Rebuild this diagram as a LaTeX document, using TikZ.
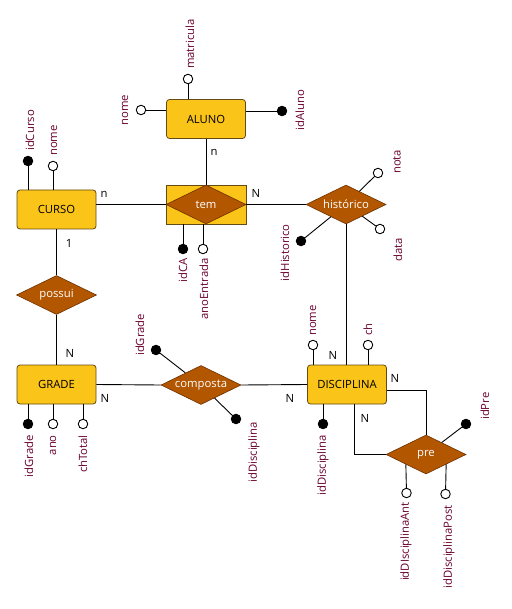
\documentclass[tikz,border=0pt]{standalone}
\usepackage{fontspec}
\setmainfont{Open Sans}
\usetikzlibrary{shapes.geometric}
\definecolor{entfill}{RGB}{251,196,24}
\definecolor{entdraw}{RGB}{100,75,20}
\definecolor{relfill}{RGB}{178,86,0}
\definecolor{reldraw}{RGB}{110,50,0}
\definecolor{lblcol}{RGB}{105,0,45}
\begin{document}
\begin{tikzpicture}[x=1pt,y=-1pt,
 every node/.style={font=\fontsize{11.3}{13}\selectfont},
 entity/.style={rectangle, rounded corners=3pt, draw=entdraw, fill=entfill, minimum width=79pt, minimum height=39pt, inner sep=0pt, line width=0.8pt},
 assocbox/.style={rectangle, draw=entdraw, fill=entfill, minimum width=80pt, minimum height=39pt, inner sep=0pt, line width=0.8pt},
 rel/.style={diamond, aspect=2, draw=reldraw, fill=relfill, text=white, minimum width=80pt, minimum height=39pt, inner sep=0pt, line width=0.6pt},
 attr/.style={circle, draw=black, fill=white, minimum size=9.5pt, inner sep=0pt, line width=0.9pt},
 keyattr/.style={attr, fill=black},
 lbl/.style={text=lblcol, rotate=90, inner sep=0pt},
 card/.style={inner sep=0pt},
 conn/.style={draw=black, line width=0.9pt}]
\fill[white] (0,0) rectangle (511,609);
% entities
\node[entity] (aluno) at (206,119) {ALUNO};
\node[entity] (curso) at (56.5,209.5) {CURSO};
\node[entity] (grade) at (56.5,384.5) {GRADE};
\node[entity] (disc) at (347,384.5) {DISCIPLINA};
% relationships
\node[assocbox] (tembox) at (206,204.5) {};
\node[rel] (tem) at (206,204.5) {tem};
\node[rel] (hist) at (346,204.5) {histórico};
\node[rel] (possui) at (56.5,295) {possui};
\node[rel] (comp) at (201,385) {composta};
\node[rel] (pre) at (426,454.5) {pre};
% attribute circles
\node[attr] (amat) at (188,79) {};
\node[attr] (anome) at (141,110) {};
\node[keyattr] (aid) at (282,111) {};
\node[keyattr] (cid) at (28,161) {};
\node[attr] (cnome) at (53,166) {};
\node[keyattr] (tid) at (183,249) {};
\node[attr] (tano) at (203,249) {};
\node[attr] (hnota) at (378,173) {};
\node[attr] (hdata) at (380,229) {};
\node[keyattr] (hid) at (301,241) {};
\node[attr] (dnome) at (313,345) {};
\node[attr] (dch) at (368,345) {};
\node[keyattr] (did) at (323,424) {};
\node[keyattr] (cpg) at (156,350) {};
\node[keyattr] (cpd) at (236,419) {};
\node[keyattr] (gid) at (28,424) {};
\node[attr] (gano) at (53,424) {};
\node[attr] (gch) at (83,424) {};
\node[keyattr] (pid) at (466,424) {};
\node[attr] (pant) at (406.5,493) {};
\node[attr] (ppost) at (445.5,494) {};
% attribute labels
\node[lbl, anchor=west] (lamat) at (190,69) {matricula};
\node[lbl] (lanome) at (125,110) {nome};
\node[lbl] (laid) at (300,110) {idAluno};
\node[lbl, anchor=west] (lcid) at (30,151) {idCurso};
\node[lbl, anchor=west] (lcnome) at (54,156) {nome};
\node[lbl, anchor=east] (ltid) at (183,258) {idCA};
\node[lbl, anchor=east] (ltano) at (204,258) {anoEntrada};
\node[lbl, anchor=west] (lhnota) at (397,174) {nota};
\node[lbl, anchor=east] (lhdata) at (398,238) {data};
\node[lbl, anchor=east] (lhid) at (285,224) {idHistorico};
\node[lbl, anchor=west] (ldnome) at (313,336) {nome};
\node[lbl, anchor=west] (ldch) at (368,336) {ch};
\node[lbl, anchor=east] (ldid) at (323,435) {idDisciplina};
\node[lbl, anchor=west] (lcpg) at (140,356) {idGrade};
\node[lbl, anchor=east] (lcpd) at (254,422) {idDisciplina};
\node[lbl, anchor=east] (lgid) at (29,435) {idGrade};
\node[lbl, anchor=east] (lgano) at (53,435) {ano};
\node[lbl, anchor=east] (lgch) at (83,435) {chTotal};
\node[lbl, anchor=west] (lpid) at (485,420) {idPre};
\node[lbl, anchor=east] (lpant) at (406,502) {idDIsciplinaAnt};
\node[lbl, anchor=east] (lppost) at (449,505) {idDisciplinaPost};
% cardinalities
\node[card] (k1) at (214,152) {n};
\node[card] (k2) at (104,194) {n};
\node[card] (k3) at (256,193) {N};
\node[card] (k4) at (69,243) {1};
\node[card] (k5) at (70,353) {N};
\node[card] (k6) at (105,398) {N};
\node[card] (k7) at (290,398) {N};
\node[card] (k8) at (333,355) {N};
\node[card] (k9) at (395,378) {N};
\node[card] (k10) at (365,418) {N};
% relationship connectors
\draw[conn] (aluno.south) -- (tembox.north);
\draw[conn] (tembox.west -| curso.east) -- (tembox.west);
\draw[conn] (tembox.east) -- (hist.west);
\draw[conn] (hist.south) -- (hist.south |- disc.north);
\draw[conn] (curso.south) -- (possui.north);
\draw[conn] (possui.south) -- (grade.north);
\draw[conn] (grade.east) -- (comp.west);
\draw[conn] (comp.east) -- (disc.west);
\draw[conn] ([yshift=-5.5pt]disc.east) -| (pre.north);
\draw[conn] ([xshift=7pt]disc.south) |- (pre.west);
% attribute connectors
\draw[conn] (amat) -- (amat |- aluno.north);
\draw[conn] (anome) -- (anome -| aluno.west);
\draw[conn] (aid) -- (aid -| aluno.east);
\draw[conn] (cid) -- (cid |- curso.north);
\draw[conn] (cnome) -- (cnome |- curso.north);
\draw[conn] (tid) -- (tid |- tembox.south);
\draw[conn] (tano) -- (tano |- tembox.south);
\draw[conn] (hnota) -- (hist);
\draw[conn] (hdata) -- (hist);
\draw[conn] (hid) -- (hist);
\draw[conn] (dnome) -- (dnome |- disc.north);
\draw[conn] (dch) -- (dch |- disc.north);
\draw[conn] (did) -- (did |- disc.south);
\draw[conn] (cpg) -- (comp);
\draw[conn] (cpd) -- (comp);
\draw[conn] (gid) -- (gid |- grade.south);
\draw[conn] (gano) -- (gano |- grade.south);
\draw[conn] (gch) -- (gch |- grade.south);
\draw[conn] (pid) -- (pre);
\draw[conn] (pant) -- (pre.south west);
\draw[conn] (ppost) -- (pre.south east);
\end{tikzpicture}
\end{document}
